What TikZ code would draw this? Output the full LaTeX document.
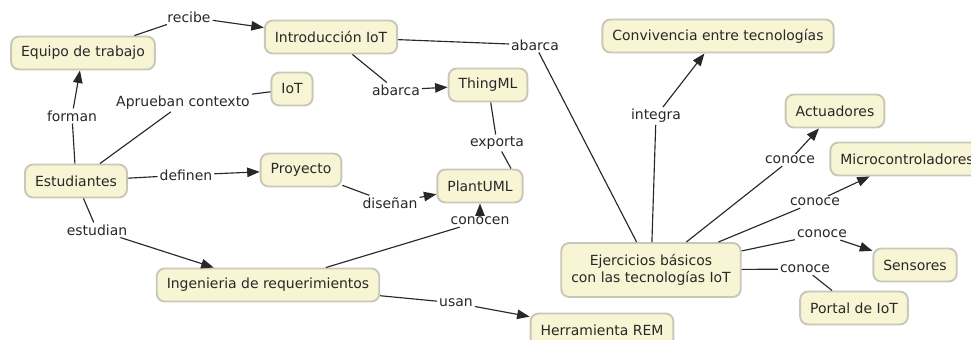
\documentclass[tikz,border=0pt]{standalone}
\usepackage{fontspec}
\setmainfont{DejaVu Sans}
\usepackage{xcolor}
\usetikzlibrary{arrows.meta}

\definecolor{conceptfill}{RGB}{248,245,212}
\definecolor{conceptline}{RGB}{200,199,184}
\definecolor{inkgrey}{RGB}{40,40,40}

\begin{document}
\begin{tikzpicture}
        [
        x=0.02cm, y=-0.02cm,
        concept/.style={rectangle, rounded corners=0.16cm, draw=conceptline, line width=1.1pt, fill=conceptfill, text=inkgrey, minimum height=0.66cm, inner xsep=0.2cm, font=\fontsize{7.95}{9.8}\selectfont},
        phrase/.style={inner sep=1pt, text=inkgrey, font=\fontsize{7.95}{9.8}\selectfont},
        link/.style={draw=inkgrey, line width=0.65pt},
        linkto/.style={link, -{Triangle[length=0.25cm, width=0.19cm]}}
        ]

        \useasboundingbox (0,0) rectangle (971,339);
        \clip (0,0) rectangle (971,339);

        \node[concept] (equipo) at (83,53) {Equipo de trabajo};
        \node[concept] (intro) at (331,37) {Introducción IoT};
        \node[concept] (iot) at (292,89) {IoT};
        \node[concept] (thingml) at (488,85) {ThingML};
        \node[concept] (convivencia) at (718,36) {Convivencia entre tecnologías};
        \node[concept] (actuadores) at (835,111) {Actuadores};
        \node[concept] (micro) at (907,159) {Microcontroladores};
        \node[concept] (estudiantes) at (76,181) {Estudiantes};
        \node[concept] (proyecto) at (301,170) {Proyecto};
        \node[concept] (plantuml) at (480,186) {PlantUML};
        \node[concept] (ingenieria) at (268,285) {Ingenieria de requerimientos};
        \node[concept] (rem) at (602,330) {Herramienta REM};
        \node[concept, align=center, minimum height=1.08cm] (ejercicios) at (651,270) {Ejercicios básicos\\con las tecnologías IoT};
        \node[concept] (sensores) at (915,265) {Sensores};
        \node[concept] (portal) at (854,308) {Portal de IoT};

        \node[phrase] (recibe) at (189,17) {recibe};
        \node[phrase] (forman) at (72,116) {forman};
        \node[phrase] (aprueban) at (183,103) {Aprueban contexto};
        \node[phrase] (abarcaA) at (535,45) {abarca};
        \node[phrase] (abarcaB) at (396,90) {abarca};
        \node[phrase] (exporta) at (497,143) {exporta};
        \node[phrase] (integra) at (656,116) {integra};
        \node[phrase] (conoceA) at (790,160) {conoce};
        \node[phrase] (conoceB) at (815,202) {conoce};
        \node[phrase] (conoceC) at (822,234) {conoce};
        \node[phrase] (conoceD) at (805,269) {conoce};
        \node[phrase] (definen) at (186,175) {definen};
        \node[phrase] (estudian) at (97,230) {estudian};
        \node[phrase] (disenan) at (390,203) {diseñan};
        \node[phrase] (conocen) at (480,221) {conocen};
        \node[phrase] (usan) at (456,303) {usan};

        \draw[link] (equipo) -- (recibe);
        \draw[linkto] (recibe) -- (intro);
        \draw[link] (estudiantes) -- (forman);
        \draw[linkto] (forman) -- (equipo);
        \draw[link] (estudiantes) -- (aprueban);
        \draw[link] (aprueban) -- (iot);
        \draw[link] (estudiantes) -- (definen);
        \draw[linkto] (definen) -- (proyecto);
        \draw[link] (estudiantes) -- (estudian);
        \draw[linkto] (estudian) -- (ingenieria);
        \draw[link] (intro) -- (abarcaB);
        \draw[linkto] (abarcaB) -- (thingml);
        \draw[link] (intro) -- (abarcaA);
        \draw[link] (abarcaA) -- (ejercicios);
        \draw[link] (thingml) -- (exporta);
        \draw[link] (exporta) -- ([xshift=0.62cm]plantuml.north);
        \draw[link] (proyecto) -- (disenan);
        \draw[linkto] (disenan) -- (plantuml);
        \draw[link] (ingenieria) -- (conocen);
        \draw[linkto] (conocen) -- (plantuml);
        \draw[link] (ingenieria) -- (usan);
        \draw[linkto] (usan) -- (rem);
        \draw[link] (ejercicios) -- (integra);
        \draw[linkto] (integra) -- (convivencia);
        \draw[link] (ejercicios) -- (conoceA);
        \draw[linkto] (conoceA) -- (actuadores);
        \draw[link] (ejercicios) -- (conoceB);
        \draw[linkto] (conoceB) -- (micro);
        \draw[link] (ejercicios) -- (conoceC);
        \draw[linkto] (conoceC) -- (sensores);
        \draw[link] (ejercicios) -- (conoceD);
        \draw[link] (conoceD) -- (portal);

\end{tikzpicture}
\end{document}
